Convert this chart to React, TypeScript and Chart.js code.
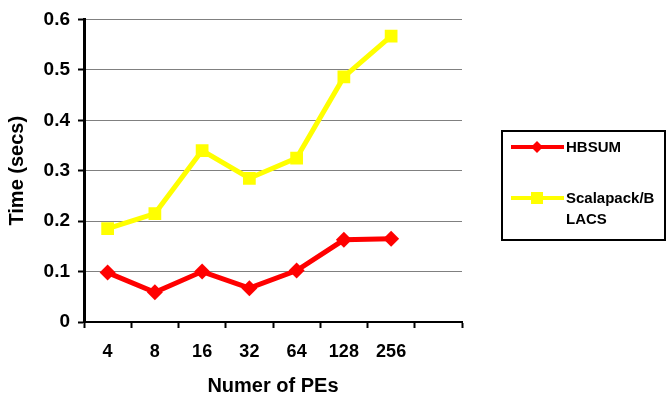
import React, { useEffect, useRef } from "react";
import { Chart, registerables } from "chart.js";

Chart.register(...registerables);

const categories = ["4", "8", "16", "32", "64", "128", "256", ""];
const hbsum = [0.098, 0.059, 0.1, 0.067, 0.102, 0.163, 0.165, null];
const scalapack = [0.185, 0.215, 0.34, 0.285, 0.325, 0.486, 0.567, null];
const seriesNames = ["HBSUM", "Scalapack/BLACS"];
const legendLines = [["HBSUM"], ["Scalapack/B", "LACS"]];

const FONT = "'Liberation Sans', Arial, sans-serif";

const legendPlugin = {
  id: "boxLegend",
  afterDraw(chart: any) {
    const ctx = chart.ctx;
    ctx.save();
    const bx = 502, by = 131, bw = 163, bh = 109;
    ctx.strokeStyle = "#000";
    ctx.lineWidth = 2;
    ctx.strokeRect(bx, by, bw, bh);
    const rows = [147, 198];
    chart.data.datasets.forEach((ds: any, i: number) => {
      const y = rows[i];
      ctx.strokeStyle = ds.borderColor;
      ctx.lineWidth = 4;
      ctx.beginPath();
      ctx.moveTo(511, y);
      ctx.lineTo(564, y);
      ctx.stroke();
      ctx.fillStyle = ds.borderColor;
      if (ds.pointStyle === "rectRot") {
        ctx.beginPath();
        ctx.moveTo(537, y - 6);
        ctx.lineTo(543, y);
        ctx.lineTo(537, y + 6);
        ctx.lineTo(531, y);
        ctx.closePath();
        ctx.fill();
      } else {
        ctx.fillRect(531, y - 6, 12, 12);
      }
      ctx.fillStyle = "#000";
      ctx.font = `bold 15px ${FONT}`;
      ctx.textBaseline = "middle";
      ctx.textAlign = "left";
      legendLines[i].forEach((t, k) => ctx.fillText(t, 566, y + 1 + k * 21));
    });
    ctx.restore();
  },
};

export default function App() {
  const ref = useRef<HTMLCanvasElement>(null);
  useEffect(() => {
    const chart = new Chart(ref.current!, {
      type: "line",
      data: {
        labels: categories,
        datasets: [
          {
            label: seriesNames[0],
            data: hbsum,
            borderColor: "#FF0000",
            backgroundColor: "#FF0000",
            borderWidth: 5,
            pointStyle: "rectRot",
            pointRadius: 8,
            pointBorderWidth: 0,
            tension: 0,
          },
          {
            label: seriesNames[1],
            data: scalapack,
            borderColor: "#FFFF00",
            backgroundColor: "#FFFF00",
            borderWidth: 5,
            pointStyle: "rect",
            pointRadius: 9,
            pointBorderWidth: 0,
            tension: 0,
          },
        ],
      },
      options: {
        responsive: false,
        animation: false,
        layout: { padding: { top: 17, right: 204, left: 0, bottom: 0 } },
        plugins: { legend: { display: false }, tooltip: { enabled: false } },
        scales: {
          x: {
            type: "category",
            offset: true,
            grid: {
              offset: true,
              drawOnChartArea: false,
              tickColor: "#000",
              tickLength: 6,
              tickWidth: 2,
            },
            border: { color: "#000", width: 2 },
            ticks: {
              color: "#000",
              font: { family: FONT, size: 18, weight: "bold" },
              padding: 13,
              maxRotation: 0,
            },
            title: {
              display: true,
              text: "Numer of PEs",
              color: "#000",
              font: { family: FONT, size: 20, weight: "bold" },
              padding: { top: 0, bottom: 3 },
            },
            afterFit(scale: any) {
              scale.height = 79;
            },
          },
          y: {
            min: 0,
            max: 0.6,
            ticks: {
              stepSize: 0.1,
              color: "#000",
              font: { family: FONT, size: 19, weight: "bold" },
              padding: 8,
              callback: (v: any) => (v === 0 ? "0" : Number(v).toFixed(1)),
            },
            grid: {
              color: "#808080",
              lineWidth: 1,
              tickColor: "#000",
              tickLength: 6,
              tickWidth: 2,
            },
            border: { color: "#000", width: 3 },
            title: {
              display: true,
              text: "Time (secs)",
              color: "#000",
              font: { family: FONT, size: 20, weight: "bold" },
              padding: { top: 5, bottom: 0 },
            },
            afterFit(scale: any) {
              scale.width = 84;
            },
          },
        },
      },
      plugins: [legendPlugin],
    } as any);
    return () => chart.destroy();
  }, []);
  return (
    <div style={{ position: "fixed", left: 0, top: 0, width: 666, height: 401, background: "#fff" }}>
      <canvas ref={ref} width={666} height={401} style={{ display: "block" }} />
    </div>
  );
}
